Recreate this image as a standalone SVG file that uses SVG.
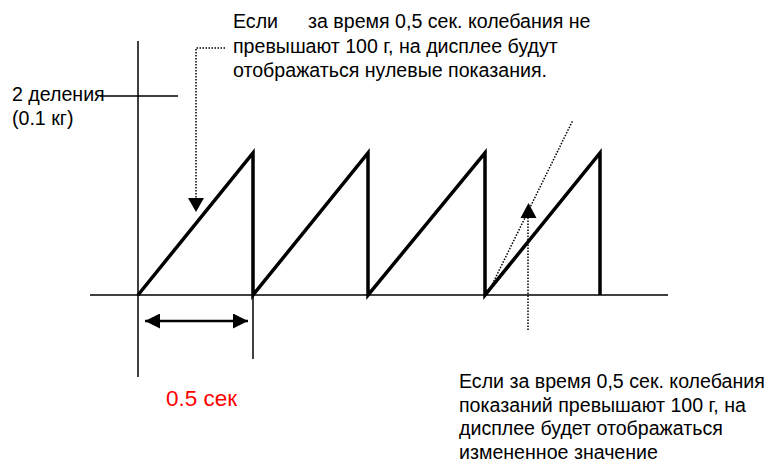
<svg xmlns="http://www.w3.org/2000/svg" width="771" height="464" viewBox="0 0 771 464">
<style>
text{font-family:"Liberation Sans",Arial,sans-serif;font-size:19.6px;fill:#000;white-space:pre}
.axis{stroke:#000;stroke-width:1.5;fill:none}
.saw{stroke:#000;stroke-width:3.5;fill:none;stroke-linejoin:miter}
.dot{stroke:#000;stroke-width:1.5;fill:none;stroke-dasharray:1.5 1.5}
.red{fill:#ff0000;font-size:22.5px}
</style>
<defs>
<marker id="ah" viewBox="0 0 10 10" refX="10" refY="5" markerWidth="6" markerHeight="6" orient="auto-start-reverse" markerUnits="strokeWidth">
<path d="M0,0 L10,5 L0,10 z" fill="#000"/>
</marker>
</defs>
<g id="axes">
<line class="axis" x1="138" y1="41" x2="138" y2="377"/>
<line class="axis" x1="90" y1="295" x2="668" y2="295"/>
<line class="axis" x1="100" y1="96" x2="178" y2="96"/>
<line class="axis" x1="253" y1="295" x2="253" y2="359"/>
</g>
<g id="sawtooth">
<polyline class="saw" points="138,295 253,153 253,295 368,153 368,295 485,153 485,295 600,153 600,295"/>
</g>
<g id="connectors">
<polyline class="dot" points="225,48 196,48 196,199"/>
<polygon points="188,198 204,198 196,212" fill="#000"/>
<line class="dot" x1="528" y1="330" x2="528" y2="217"/>
<polygon points="520.5,218 536.5,218 528.5,203" fill="#000"/>
<line class="dot" x1="487" y1="295" x2="573" y2="120"/>
<line stroke="#000" stroke-width="2.5" x1="145" y1="321" x2="248" y2="321" marker-start="url(#ah)" marker-end="url(#ah)"/>
</g>
<g id="label-divisions">
<text x="12" y="101">2 деления</text>
<text x="12" y="125">(0.1 кг)</text>
</g>
<g id="label-top">
<text x="233" y="28">Если    <tspan x="308">за время 0,5 сек. колебания не</tspan></text>
<text x="233" y="53">превышают 100 г, на дисплее будут</text>
<text x="233" y="77">отображаться нулевые показания.</text>
</g>
<g id="label-period">
<text class="red" x="166" y="406">0.5 сек</text>
</g>
<g id="label-bottom">
<text x="459" y="388">Если за время 0,5 сек. колебания</text>
<text x="459" y="411.5">показаний превышают 100 г, на</text>
<text x="459" y="435">дисплее будет отображаться</text>
<text x="459" y="458.5">измененное значение</text>
</g>
</svg>
